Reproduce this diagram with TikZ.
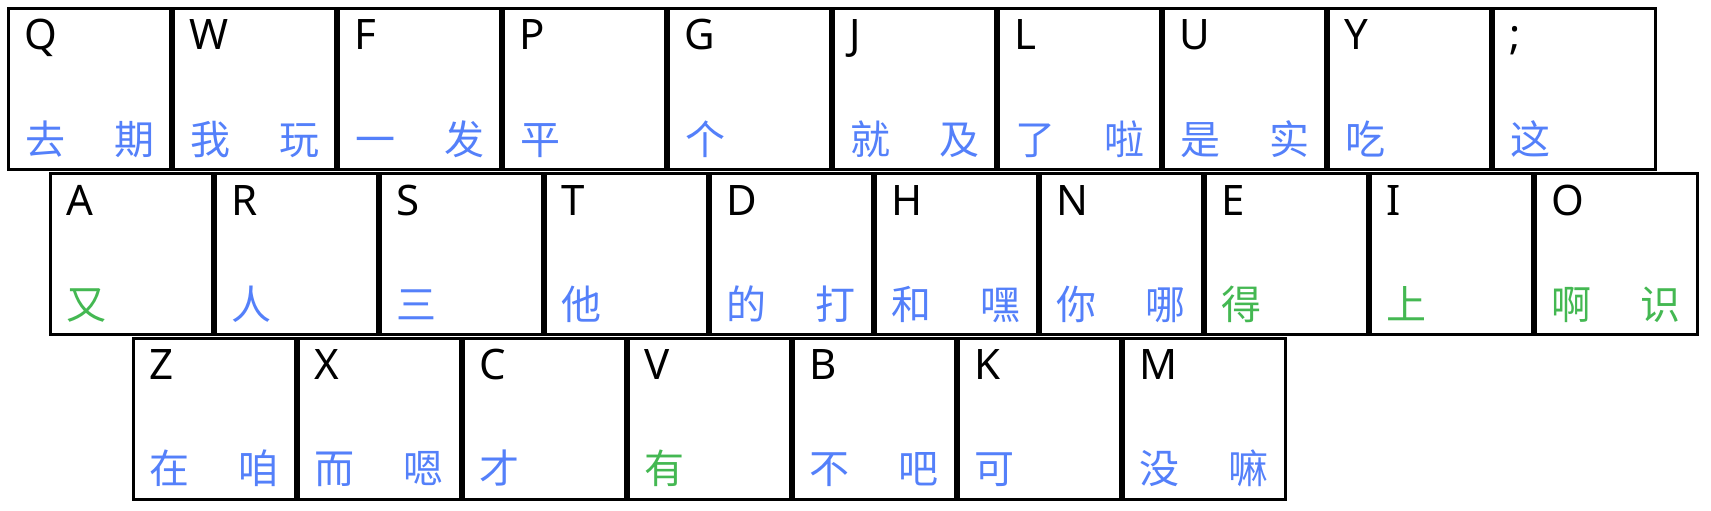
\documentclass[tikz,border=0pt]{standalone}
\usepackage{fontspec}
\setmainfont{Noto Sans}
\newfontfamily\cjk{Noto Sans CJK SC}
\definecolor{kblue}{RGB}{84,128,250}
\definecolor{kgreen}{RGB}{68,184,82}
\tikzset{
  keybox/.style={draw=black,line width=3pt,inner sep=0pt,outer sep=0pt,minimum width=162pt,minimum height=161pt,anchor=north west},
  keyletter/.style={inner sep=0pt,outer sep=0pt,font=\fontsize{42}{42}\selectfont,text=black},
  keychar/.style={inner sep=0pt,outer sep=0pt,font=\cjk\fontsize{40}{40}\selectfont},
}
\newcommand\kbkey[7]{%
  \node[keybox] (#1) at (#2,#3) {};
  \node[keyletter,anchor=base west] (#1-l) at ({#2+16},{#3+41.5}) {#4};
  \node[keychar,text=#5,anchor=base west] (#1-a) at ({#2+16.5},{#3+145.5}) {#6};
  \node[keychar,text=#5,anchor=base east] (#1-b) at ({#2+162-16.5},{#3+145.5}) {#7};
}
\begin{document}
\begin{tikzpicture}[x=1pt,y=-1pt]
\useasboundingbox[fill=white] (0,0) rectangle (1711,511);
% row 1
\kbkey{q}{8.5}{8.5}{Q}{kblue}{去}{期}
\kbkey{w}{173.5}{8.5}{W}{kblue}{我}{玩}
\kbkey{f}{338.5}{8.5}{F}{kblue}{一}{发}
\kbkey{p}{503.5}{8.5}{P}{kblue}{平}{}
\kbkey{g}{668.5}{8.5}{G}{kblue}{个}{}
\kbkey{j}{833.5}{8.5}{J}{kblue}{就}{及}
\kbkey{l}{998.5}{8.5}{L}{kblue}{了}{啦}
\kbkey{u}{1163.5}{8.5}{U}{kblue}{是}{实}
\kbkey{y}{1328.5}{8.5}{Y}{kblue}{吃}{}
\kbkey{semi}{1493.5}{8.5}{;}{kblue}{这}{}
% row 2
\kbkey{a}{50}{173.5}{A}{kgreen}{又}{}
\kbkey{r}{215}{173.5}{R}{kblue}{人}{}
\kbkey{s}{380}{173.5}{S}{kblue}{三}{}
\kbkey{t}{545}{173.5}{T}{kblue}{他}{}
\kbkey{d}{710}{173.5}{D}{kblue}{的}{打}
\kbkey{h}{875}{173.5}{H}{kblue}{和}{嘿}
\kbkey{n}{1040}{173.5}{N}{kblue}{你}{哪}
\kbkey{e}{1205}{173.5}{E}{kgreen}{得}{}
\kbkey{i}{1370}{173.5}{I}{kgreen}{上}{}
\kbkey{o}{1535}{173.5}{O}{kgreen}{啊}{识}
% row 3
\kbkey{z}{133}{338}{Z}{kblue}{在}{咱}
\kbkey{x}{298}{338}{X}{kblue}{而}{嗯}
\kbkey{c}{463}{338}{C}{kblue}{才}{}
\kbkey{v}{628}{338}{V}{kgreen}{有}{}
\kbkey{b}{793}{338}{B}{kblue}{不}{吧}
\kbkey{k}{958}{338}{K}{kblue}{可}{}
\kbkey{m}{1123}{338}{M}{kblue}{没}{嘛}
\end{tikzpicture}
\end{document}
